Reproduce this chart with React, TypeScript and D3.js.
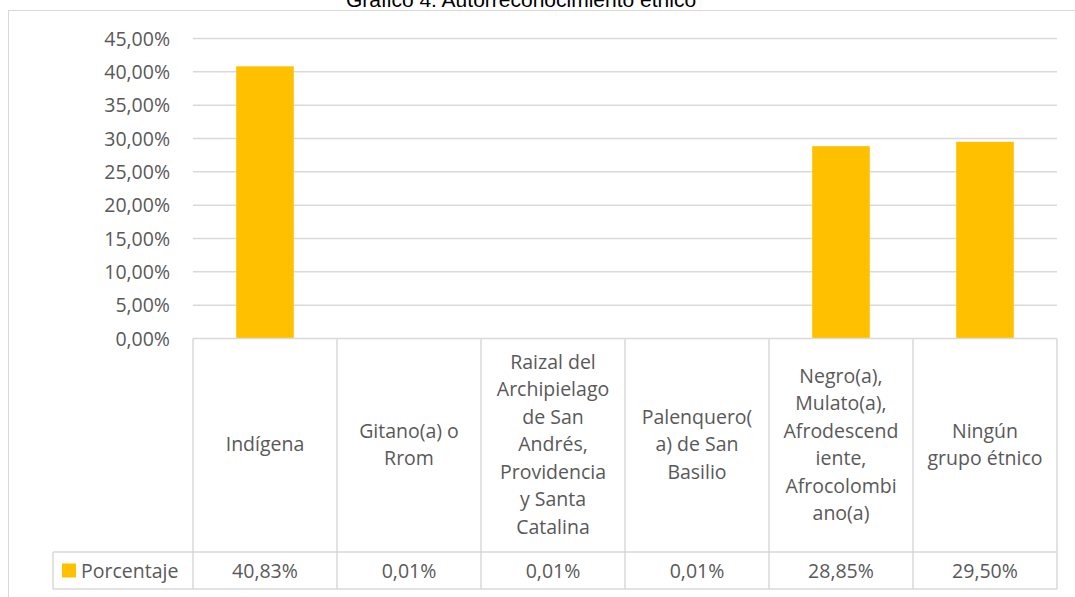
import React, { useEffect, useRef } from "react";
import * as d3 from "d3";

const title = "Gráfico 4. Autorreconocimiento étnico";
const seriesName = "Porcentaje";
const categories = [
  "Indígena",
  "Gitano(a) o Rrom",
  "Raizal del Archipielago de San Andrés, Providencia y Santa Catalina",
  "Palenquero(a) de San Basilio",
  "Negro(a), Mulato(a), Afrodescendiente, Afrocolombiano(a)",
  "Ningún grupo étnico",
];
// wrapped the way the table shows them
const categoryLines = [
  ["Indígena"],
  ["Gitano(a) o", "Rrom"],
  ["Raizal del", "Archipielago", "de San", "Andrés,", "Providencia", "y Santa", "Catalina"],
  ["Palenquero(", "a) de San", "Basilio"],
  ["Negro(a),", "Mulato(a),", "Afrodescend", "iente,", "Afrocolombi", "ano(a)"],
  ["Ningún", "grupo étnico"],
];
const values = [0.4083, 0.0001, 0.0001, 0.0001, 0.2885, 0.295];
const yTicks = [0, 0.05, 0.1, 0.15, 0.2, 0.25, 0.3, 0.35, 0.4, 0.45];

const W = 1075;
const H = 597;
const FONT = "'Open Sans', sans-serif";
const FS = 19.5;
const GRID = "#d9d9d9";
const TEXT = "#595959";
const BAR = "#ffc000";

const locale = d3.formatLocale({
  decimal: ",",
  thousands: ".",
  grouping: [3],
  currency: ["", " €"],
});
const pct = locale.format(".2%");

const App: React.FC = () => {
  const svgRef = useRef<SVGSVGElement>(null);

  useEffect(() => {
    if (!svgRef.current) return;
    const svg = d3.select(svgRef.current);
    svg.selectAll("*").remove();

    const left = 193;
    const right = 1057;
    const tableTop = 338.5;
    const headerBottom = 552;
    const tableBottom = 589;
    const legendLeft = 53;

    const x = d3.scaleBand<string>().domain(categories).range([left, right]);
    const y = d3.scaleLinear().domain([0, 0.45]).range([tableTop, 38.5]);
    const barW = x.bandwidth() * 0.4;

    // outer chart border (runs off the page on the right and bottom)
    svg
      .append("rect")
      .attr("x", 8.5)
      .attr("y", 10.5)
      .attr("width", W + 20)
      .attr("height", H + 20)
      .attr("fill", "none")
      .attr("stroke", GRID)
      .attr("stroke-width", 1);

    // title, clipped at the top like the source
    svg
      .append("text")
      .attr("x", 521)
      .attr("y", 6.5)
      .attr("text-anchor", "middle")
      .attr("font-family", "'Liberation Sans', Arial, sans-serif")
      .attr("font-size", 21)
      .attr("fill", "#000")
      .text(title);

    // gridlines
    svg
      .append("g")
      .selectAll("line")
      .data(yTicks.filter((t) => t > 0))
      .enter()
      .append("line")
      .attr("x1", left)
      .attr("x2", right)
      .attr("y1", (d) => y(d))
      .attr("y2", (d) => y(d))
      .attr("stroke", GRID)
      .attr("stroke-width", 1.5);

    // y axis labels
    svg
      .append("g")
      .selectAll("text")
      .data(yTicks)
      .enter()
      .append("text")
      .attr("x", 170)
      .attr("y", (d) => y(d))
      .attr("dy", "0.36em")
      .attr("text-anchor", "end")
      .attr("font-family", FONT)
      .attr("font-size", FS)
      .attr("fill", TEXT)
      .text((d) => pct(d));

    // bars
    svg
      .append("g")
      .selectAll("rect")
      .data(values)
      .enter()
      .append("rect")
      .attr("x", (_d, i) => (x(categories[i]) || 0) + (x.bandwidth() - barW) / 2)
      .attr("y", (d) => y(d))
      .attr("width", barW)
      .attr("height", (d) => tableTop - y(d))
      .attr("fill", BAR);

    // data table grid
    const grid = svg.append("g").attr("stroke", GRID).attr("stroke-width", 1.5);
    grid.append("line").attr("x1", left).attr("x2", right).attr("y1", tableTop).attr("y2", tableTop);
    grid.append("line").attr("x1", legendLeft).attr("x2", right).attr("y1", headerBottom).attr("y2", headerBottom);
    grid.append("line").attr("x1", legendLeft).attr("x2", right).attr("y1", tableBottom).attr("y2", tableBottom);
    grid.append("line").attr("x1", legendLeft).attr("x2", legendLeft).attr("y1", headerBottom).attr("y2", tableBottom);
    grid
      .selectAll(".col")
      .data([...categories.map((c) => x(c) || 0), right])
      .enter()
      .append("line")
      .attr("x1", (d) => d)
      .attr("x2", (d) => d)
      .attr("y1", tableTop)
      .attr("y2", tableBottom);

    // category headers
    const lineH = 27.5;
    const headerMid = (tableTop + headerBottom) / 2 - 1;
    categoryLines.forEach((lines, i) => {
      const cx = (x(categories[i]) || 0) + x.bandwidth() / 2;
      const t = svg
        .append("text")
        .attr("text-anchor", "middle")
        .attr("font-family", FONT)
        .attr("font-size", FS)
        .attr("fill", TEXT);
      lines.forEach((ln, j) => {
        t.append("tspan")
          .attr("x", cx)
          .attr("y", headerMid + (j - (lines.length - 1) / 2) * lineH)
          .attr("dy", "0.36em")
          .text(ln);
      });
    });

    // values row
    const rowMid = (headerBottom + tableBottom) / 2;
    svg
      .append("g")
      .selectAll("text")
      .data(values)
      .enter()
      .append("text")
      .attr("x", (_d, i) => (x(categories[i]) || 0) + x.bandwidth() / 2)
      .attr("y", rowMid)
      .attr("dy", "0.36em")
      .attr("text-anchor", "middle")
      .attr("font-family", FONT)
      .attr("font-size", FS)
      .attr("fill", TEXT)
      .text((d) => pct(d));

    // legend key in the row header
    svg
      .append("rect")
      .attr("x", 62)
      .attr("y", rowMid - 7)
      .attr("width", 14)
      .attr("height", 14)
      .attr("fill", BAR);
    svg
      .append("text")
      .attr("x", 81)
      .attr("y", rowMid)
      .attr("dy", "0.36em")
      .attr("font-family", FONT)
      .attr("font-size", FS)
      .attr("fill", TEXT)
      .text(seriesName);
  }, []);

  return (
    <svg
      ref={svgRef}
      width={W}
      height={H}
      style={{ position: "absolute", left: 0, top: 0, display: "block", background: "#fff" }}
    />
  );
};

export default App;
